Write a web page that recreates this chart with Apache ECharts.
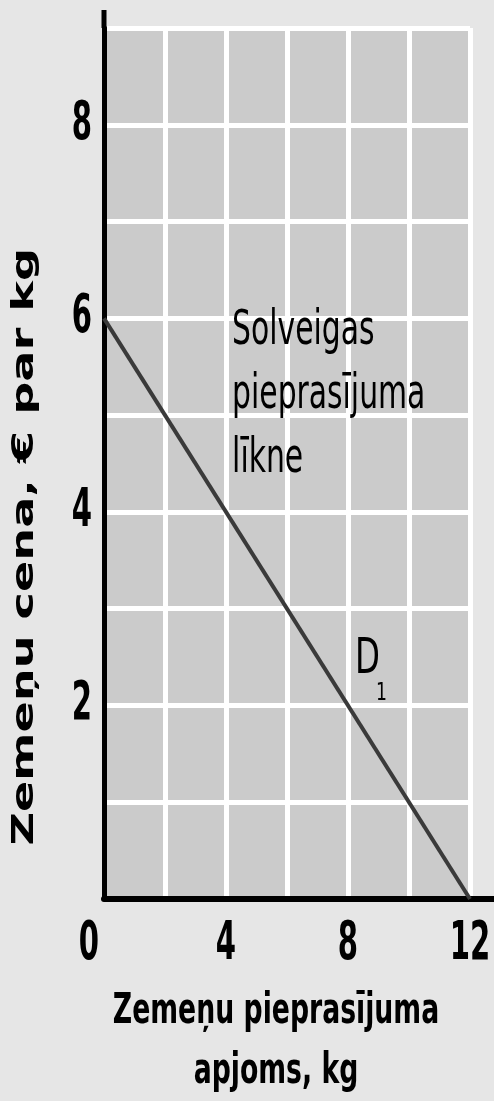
<!DOCTYPE html>
<html>
<head>
<meta charset="utf-8">
<script src="https://cdn.jsdelivr.net/npm/echarts@6/dist/echarts.min.js"></script>
<style>
  html, body { margin: 0; padding: 0; background: #e6e6e6; }
  #chart { width: 494px; height: 1101px; }
</style>
</head>
<body>
<div id="chart"></div>
<script>
// pieprasījuma līkne D1
const quantity = [0, 12];
const price = [6, 0];
const xLabels = [0, 4, 8, 12];
const yLabels = [2, 4, 6, 8];
const xName = ['Zemeņu pieprasījuma', 'apjoms, kg'];
const yName = 'Zemeņu cena, € par kg';
const curveNote = 'Solveigas\npieprasījuma\nlīkne';

const cond = '"DejaVu Sans Condensed", "DejaVu Sans", sans-serif';

const chart = echarts.init(document.getElementById('chart'));

chart.setOption({
  backgroundColor: '#e6e6e6',
  animation: false,
  grid: {
    left: 104, right: 24, top: 28, bottom: 202,
    outerBoundsMode: 'none',
    show: true, backgroundColor: '#cbcbcb', borderWidth: 0
  },
  xAxis: {
    type: 'value', min: 0, max: 12, interval: 2,
    axisLine: {
      lineStyle: { color: '#000', width: 6 },
      symbol: ['none', 'rect'], symbolSize: [6, 30], symbolOffset: [0, 15]
    },
    axisTick: { show: false },
    axisLabel: { show: false },
    splitLine: { lineStyle: { color: '#fff', width: 5 } }
  },
  yAxis: {
    type: 'value', min: 0, max: 9, interval: 1,
    axisLine: {
      lineStyle: { color: '#000', width: 5 },
      symbol: ['none', 'rect'], symbolSize: [5, 18], symbolOffset: [0, 9]
    },
    axisTick: { show: false },
    axisLabel: { show: false },
    splitLine: { lineStyle: { color: '#fff', width: 5 } }
  },
  series: [{
    type: 'line',
    data: quantity.map((q, i) => [q, price[i]]),
    symbol: 'none',
    lineStyle: { color: '#3a3a3a', width: 4 },
    z: 2
  }]
});

// teksti: pozīcijas no asu skalām
const px = (x, y) => chart.convertToPixel({ gridIndex: 0 }, [x, y]);
const txt = (p, text, style, extra) => Object.assign({
  type: 'text', x: p[0], y: p[1], z: 10,
  style: Object.assign({ text: text, fill: '#000' }, style)
}, extra || {});

const graphics = [];

// y ass skaitļi
yLabels.forEach((v) => {
  const p = px(0, v);
  graphics.push(txt([p[0] - 12, p[1]], String(v),
    { fontFamily: cond, fontWeight: 'bold', fontSize: 54, align: 'right', verticalAlign: 'middle' },
    { scaleX: 0.6 }));
});

// x ass skaitļi
xLabels.forEach((v) => {
  const p = px(v, 0);
  graphics.push(txt([p[0] - (v === 0 ? 15 : 0), p[1] + 46], String(v),
    { fontFamily: cond, fontWeight: 'bold', fontSize: 54, align: 'center', verticalAlign: 'middle' },
    { scaleX: 0.6 }));
});

// x ass nosaukums
const mid = px(6, 0);
xName.forEach((line, i) => {
  graphics.push(txt([mid[0] - 11, mid[1] + 113 + i * 60], line,
    { fontFamily: cond, fontWeight: 'bold', fontSize: 43, align: 'center', verticalAlign: 'middle' },
    { scaleX: 0.69 }));
});

// y ass nosaukums
const ymid = px(0, 3.64);
graphics.push(txt([25, ymid[1]], yName,
  { fontFamily: '"DejaVu Sans", sans-serif', fontWeight: 'bold', fontSize: 31, align: 'center', verticalAlign: 'middle' },
  { rotation: Math.PI / 2, scaleX: 1.49 }));

// līknes paraksts
graphics.push(txt(px(4.2, 6.19), curveNote,
  { fontFamily: cond, fontSize: 48, lineHeight: 64, align: 'left', verticalAlign: 'top' },
  { scaleX: 0.69 }));

// D1
const dp = px(8.23, 2.64);
graphics.push(txt(dp, 'D',
  { fontFamily: cond, fontSize: 50, align: 'left', verticalAlign: 'top' },
  { scaleX: 0.72, y: dp[1] - 8 }));
graphics.push(txt([dp[0] + 21, dp[1] + 38], '1',
  { fontFamily: cond, fontSize: 24, align: 'left', verticalAlign: 'top' },
  { scaleX: 0.8 }));

chart.setOption({ graphic: graphics });
</script>
</body>
</html>
